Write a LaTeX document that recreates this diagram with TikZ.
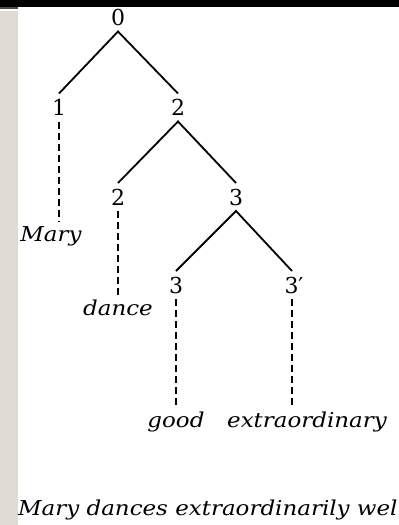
\documentclass[tikz,border=0pt]{standalone}
\usepackage{fontspec}
\setmainfont{DejaVu Serif}
\newfontfamily\wordfont[FakeStretch=1.12]{DejaVu Serif}
\definecolor{strip}{HTML}{E0DBD2}
\begin{document}
\begin{tikzpicture}[x=1pt,y=-1pt,
  num/.style={font=\fontsize{22}{22}\selectfont, inner sep=0pt, text height=16pt, text depth=0pt, outer ysep=6pt},
  word/.style={font=\wordfont\fontsize{20.5}{20.5}\selectfont\itshape, inner sep=0pt, text height=15pt, text depth=5pt, outer ysep=4pt},
  branch/.style={line width=1.8pt},
  trace/.style={line width=1.9pt, dash pattern=on 7pt off 4pt}]
\useasboundingbox (0,0) rectangle (399,525);
\fill[white] (0,0) rectangle (399,525);
\fill[black] (0,0) rectangle (399,7);
\fill[black!70] (0,7) rectangle (18,9);
\fill[strip] (0,11) rectangle (18,525);
% nodes
\node[num] (n0) at (118,17.5) {0};
\node[num] (n1) at (59,107.5) {1};
\node[num] (n2) at (178,107.5) {2};
\node[num] (n2b) at (118,197) {2};
\node[num] (n3) at (236,197) {3};
\node[num] (n3a) at (176,285) {3};
\node[num] (n3b) at (294,285) {3′};
\node[word] (mary) at (51,236) {Mary};
\node[word] (dance) at (118,310) {dance};
\node[word] (good) at (176,422) {good};
\node[word] (extra) at (307,422) {extraordinary};
\node[word, anchor=west] (sent) at (18,510) {Mary dances extraordinarily wel};
\coordinate (t3b) at ([xshift=-2pt]n3b.south);
% branches
\draw[branch] (n1.north) -- (n0.south) -- (n2.north);
\draw[branch] (n2b.north) -- (n2.south) -- (n3.north);
\draw[branch] (n3a.north) -- (n3.south) -- (t3b |- n3b.north);
% traces
\draw[trace] (n1.south) -- (n1.south |- mary.north);
\draw[trace] (n2b.south) -- (dance.north);
\draw[trace] (n3a.south) -- (good.north);
\draw[trace] (t3b) -- (t3b |- extra.north);
\end{tikzpicture}
\end{document}
